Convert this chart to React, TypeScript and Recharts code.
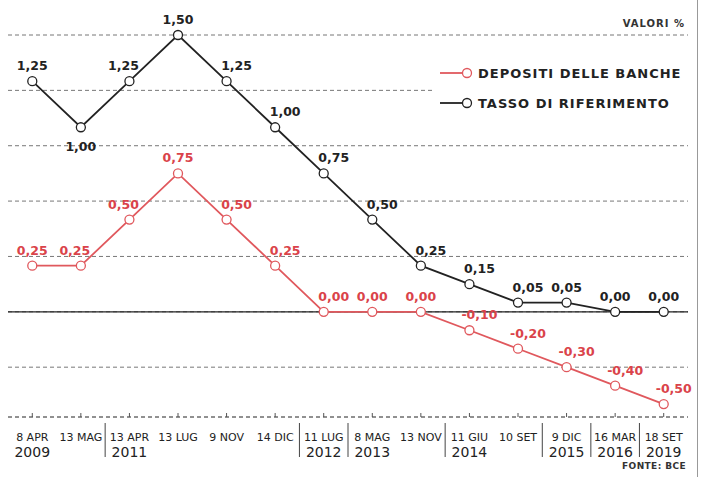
import { LineChart, Line, XAxis, YAxis, CartesianGrid, ReferenceLine, LabelList, Legend } from 'recharts';

const dates = ['8 APR', '13 MAG', '13 APR', '13 LUG', '9 NOV', '14 DIC', '11 LUG', '8 MAG', '13 NOV', '11 GIU', '10 SET', '9 DIC', '16 MAR', '18 SET'];
const years = ['2009', '2009', '2011', '2011', '2011', '2011', '2012', '2013', '2013', '2014', '2014', '2015', '2016', '2019'];
const tassoRiferimento = [1.25, 1.0, 1.25, 1.5, 1.25, 1.0, 0.75, 0.5, 0.25, 0.15, 0.05, 0.05, 0, 0];
const depositiBanche = [0.25, 0.25, 0.5, 0.75, 0.5, 0.25, 0, 0, 0, -0.1, -0.2, -0.3, -0.4, -0.5];
const yTicks = [-0.3, 0, 0.3, 0.6, 0.9, 1.2, 1.5];

const data = dates.map((d, i) => ({
  idx: i,
  date: d,
  tasso: tassoRiferimento[i],
  depositi: depositiBanche[i],
}));

const W = 703;
const H = 477;
const MARGIN = { top: 35, right: 15, bottom: 0, left: 8 };
const STEP = (W - MARGIN.left - MARGIN.right) / dates.length;

const RED = '#e0585d';
const RED_TEXT = '#da434a';
const BLACK = '#222';
const FONT = '"DejaVu Sans", sans-serif';

const fmt = (v: number) => v.toFixed(2).replace('.', ',');

// labels sit above the dot, nudged away from the line; valleys get the label underneath
const makeLabel = (values: number[], color: string) => (props: any) => {
  const { x, y, index } = props;
  const v = values[index];
  const prev = values[index - 1];
  const next = values[index + 1];
  const below = prev !== undefined && next !== undefined && prev > v && next > v;
  let dx = 0;
  if (!below) {
    if (prev !== undefined && prev - v > 0.095) dx = 10;
    else if (next !== undefined && next > v) dx = -6;
  }
  return (
    <text
      x={x + dx}
      y={below ? y + 24 : y - 11}
      textAnchor="middle"
      fill={color}
      fontSize={12.5}
      fontWeight="bold"
      fontFamily={FONT}
    >
      {fmt(v)}
    </text>
  );
};

const DateTick = (props: any) => {
  const { x, y, payload } = props;
  const i = payload.value;
  const newGroup = i > 0 && years[i] !== years[i - 1];
  return (
    <g>
      <line x1={x} x2={x} y1={y} y2={y - 4} stroke="#555" strokeWidth={1} />
      {newGroup && (
        <line x1={x - STEP / 2} x2={x - STEP / 2} y1={y + 6} y2={y + 40} stroke="#444" strokeWidth={1} />
      )}
      <text x={x} y={y + 24} textAnchor="middle" fontSize={11} fill="#222" fontFamily={FONT}>
        {dates[i]}
      </text>
      {(i === 0 || newGroup) && (
        <text x={x} y={y + 40} textAnchor="middle" fontSize={14} fill="#222" fontFamily={FONT}>
          {years[i]}
        </text>
      )}
    </g>
  );
};

const LegendBox = (props: any) => {
  const { payload } = props;
  return (
    <div style={{ background: '#fff', width: 262, height: 62, fontFamily: FONT }}>
      {(payload || []).map((entry: any) => (
        <div key={entry.value} style={{ display: 'flex', alignItems: 'center', height: 30 }}>
          <svg width={46} height={14}>
            <line x1={8} x2={30} y1={7} y2={7} stroke={entry.color} strokeWidth={1.8} />
            <circle cx={35} cy={7} r={4.5} fill="#fff" stroke={entry.color} strokeWidth={1.3} />
          </svg>
          <span style={{ fontSize: 13, fontWeight: 'bold', letterSpacing: 1, color: BLACK }}>{entry.value}</span>
        </div>
      ))}
    </div>
  );
};

export default function App() {
  return (
    <div style={{ position: 'absolute', left: 0, top: 0, width: W, height: H, background: '#fff' }}>
      <LineChart width={W} height={H} data={data} margin={MARGIN} style={{ fontFamily: FONT }}>
        <CartesianGrid vertical={false} stroke="#777" strokeDasharray="4 3" />
        <XAxis
          dataKey="idx"
          type="number"
          scale="linear"
          domain={[-0.5, dates.length - 0.5]}
          ticks={data.map((d) => d.idx)}
          interval={0}
          height={60}
          tickSize={0}
          tickMargin={0}
          tickLine={false}
          axisLine={{ stroke: '#666', strokeDasharray: '4 3' }}
          tick={<DateTick />}
        />
        <YAxis hide type="number" domain={[-0.57, 1.5]} ticks={yTicks} />
        <ReferenceLine y={0} stroke={BLACK} strokeWidth={1.2} />
        <Legend
          layout="horizontal"
          verticalAlign="middle"
          align="center"
          content={<LegendBox />}
          wrapperStyle={{ position: 'absolute', top: 58, left: 432, width: 262, height: 62 }}
        />
        <Line
          name="DEPOSITI DELLE BANCHE"
          dataKey="depositi"
          type="linear"
          stroke={RED}
          strokeWidth={1.8}
          dot={{ r: 4.5, fill: '#fff', stroke: RED, strokeWidth: 1.3 }}
          activeDot={false}
          isAnimationActive={false}
        >
          <LabelList dataKey="depositi" content={makeLabel(depositiBanche, RED_TEXT)} />
        </Line>
        <Line
          name="TASSO DI RIFERIMENTO"
          dataKey="tasso"
          type="linear"
          stroke={BLACK}
          strokeWidth={1.8}
          dot={{ r: 4.5, fill: '#fff', stroke: BLACK, strokeWidth: 1.3 }}
          activeDot={false}
          isAnimationActive={false}
        >
          <LabelList dataKey="tasso" content={makeLabel(tassoRiferimento, BLACK)} />
        </Line>
      </LineChart>
      <div
        style={{
          position: 'absolute', top: 18, right: 18, fontFamily: FONT, fontSize: 10,
          fontWeight: 'bold', letterSpacing: 1, color: '#333',
        }}
      >
        VALORI %
      </div>
      <div
        style={{
          position: 'absolute', top: 461, right: 17, fontFamily: FONT, fontSize: 9,
          fontWeight: 'bold', letterSpacing: 0.4, color: '#333',
        }}
      >
        FONTE: BCE
      </div>
      <div style={{ position: 'absolute', top: 0, left: 697, width: 1, height: H, background: '#999' }} />
    </div>
  );
}
